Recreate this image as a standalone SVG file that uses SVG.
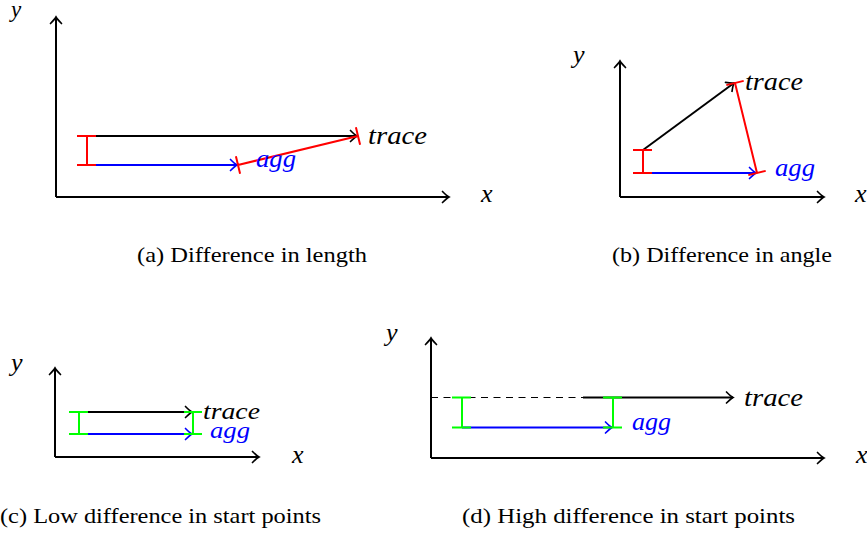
<svg xmlns="http://www.w3.org/2000/svg" width="867" height="534" viewBox="0 0 867 534">
<style>
.ax{stroke:#000;stroke-width:2;fill:none}
.k{stroke:#000;stroke-width:2;fill:none}
.b{stroke:#00f;stroke-width:2;fill:none}
.r{stroke:#f00;stroke-width:2;fill:none}
.g{stroke:#0f0;stroke-width:2;fill:none}
.dash{stroke:#000;stroke-width:1.2;stroke-dasharray:7 5.5;fill:none}
.m{font-family:"Liberation Serif","DejaVu Serif",serif;font-style:italic;font-size:26px;fill:#000}
.mb{font-family:"Liberation Serif","DejaVu Serif",serif;font-style:italic;font-size:26px;fill:#00f}
.sm{font-size:23px}
.cap{font-family:"Liberation Serif","DejaVu Serif",serif;font-size:21px;fill:#000}
</style>
<defs>
<marker id="ak" markerUnits="userSpaceOnUse" orient="auto" refX="0" refY="0" markerWidth="12" markerHeight="14" viewBox="-9 -7 11 14" overflow="visible">
<path d="M-6.5,-5.5 C-4,-3 -1.5,-0.8 0,0 C-1.5,0.8 -4,3 -6.5,5.5" fill="none" stroke="#000" stroke-width="1.7" stroke-linecap="round"/>
</marker>
<marker id="ab" markerUnits="userSpaceOnUse" orient="auto" refX="0" refY="0" markerWidth="12" markerHeight="14" viewBox="-9 -7 11 14" overflow="visible">
<path d="M-6.5,-5.5 C-4,-3 -1.5,-0.8 0,0 C-1.5,0.8 -4,3 -6.5,5.5" fill="none" stroke="#00f" stroke-width="1.7" stroke-linecap="round"/>
</marker>
</defs>

<g id="panel-a">
<g id="a-axes">
<path class="ax" d="M56,197 L56,17" marker-end="url(#ak)"/>
<path class="ax" d="M56,197 L449,197" marker-end="url(#ak)"/>
</g>
<g id="a-connectors">
<path class="k" d="M87,136 L357,136" marker-end="url(#ak)"/>
<path class="b" d="M87,165 L237,165" marker-end="url(#ab)"/>
<path class="r" d="M87,136 L87,165 M77,136 L96,136 M77,165 L96,165"/>
<path class="r" d="M238,165 L358,136 M235.9,156.3 L240.1,173.7 M355.9,127.3 L360.1,144.7"/>
</g>
<g id="a-labels">
<text class="m" x="368" y="144" textLength="59" lengthAdjust="spacingAndGlyphs">trace</text>
<text class="mb" x="256" y="167" textLength="40" lengthAdjust="spacingAndGlyphs">agg</text>
<text class="m" x="481" y="202">x</text>
<text class="m sm" x="11" y="17">y</text>
</g>
<text class="cap" x="137" y="262" textLength="230" lengthAdjust="spacingAndGlyphs">(a) Difference in length</text>
</g>

<g id="panel-b">
<g id="b-axes">
<path class="ax" d="M620,197 L620,61" marker-end="url(#ak)"/>
<path class="ax" d="M620,197 L824,197" marker-end="url(#ak)"/>
</g>
<g id="b-connectors">
<path class="k" d="M643,150 L734,83" marker-end="url(#ak)"/>
<path class="b" d="M643,173 L756,173" marker-end="url(#ab)"/>
<path class="r" d="M643,150 L643,173 M633,150 L652,150 M633,173 L652,173"/>
<path class="r" d="M735,83 L757,173 M726.3,85.1 L743.7,80.9 M748.3,175.1 L765.7,170.9"/>
</g>
<g id="b-labels">
<text class="m" x="745" y="90" textLength="58" lengthAdjust="spacingAndGlyphs">trace</text>
<text class="mb" x="775" y="176" textLength="40" lengthAdjust="spacingAndGlyphs">agg</text>
<text class="m" x="855" y="202">x</text>
<text class="m" x="573" y="63">y</text>
</g>
<text class="cap" x="612" y="262" textLength="220" lengthAdjust="spacingAndGlyphs">(b) Difference in angle</text>
</g>

<g id="panel-c">
<g id="c-axes">
<path class="ax" d="M55,457 L55,368" marker-end="url(#ak)"/>
<path class="ax" d="M55,457 L259,457" marker-end="url(#ak)"/>
</g>
<g id="c-connectors">
<path class="k" d="M79,412 L192,412" marker-end="url(#ak)"/>
<path class="b" d="M79,434 L192,434" marker-end="url(#ab)"/>
<path class="g" d="M79,412 L79,434 M69,412 L88,412 M69,434 L88,434"/>
<path class="g" d="M193,412 L193,434 M184,412 L202,412 M184,434 L202,434"/>
</g>
<g id="c-labels">
<text class="m sm" x="203" y="419" textLength="57" lengthAdjust="spacingAndGlyphs">trace</text>
<text class="mb sm" x="210" y="438" textLength="40" lengthAdjust="spacingAndGlyphs">agg</text>
<text class="m" x="292" y="463">x</text>
<text class="m" x="11" y="371">y</text>
</g>
<text class="cap" x="0" y="523" textLength="321" lengthAdjust="spacingAndGlyphs">(c) Low difference in start points</text>
</g>

<g id="panel-d">
<g id="d-axes">
<path class="ax" d="M431,458 L431,338" marker-end="url(#ak)"/>
<path class="ax" d="M431,458 L824,458" marker-end="url(#ak)"/>
</g>
<g id="d-connectors">
<path class="dash" d="M431,397.5 L583,397.5"/>
<path class="k" d="M583,397.5 L733,397.5" marker-end="url(#ak)"/>
<path class="b" d="M462,427.5 L612,427.5" marker-end="url(#ab)"/>
<path class="g" d="M462,397.5 L462,427.5 M452,397.5 L471,397.5 M452,427.5 L471,427.5"/>
<path class="g" d="M613,397.5 L613,427.5 M603,397.5 L622,397.5 M603,427.5 L622,427.5"/>
</g>
<g id="d-labels">
<text class="m" x="744" y="406" textLength="59" lengthAdjust="spacingAndGlyphs">trace</text>
<text class="mb" x="632" y="430" textLength="39" lengthAdjust="spacingAndGlyphs">agg</text>
<text class="m" x="856" y="463">x</text>
<text class="m" x="386" y="341">y</text>
</g>
<text class="cap" x="462" y="523" textLength="333" lengthAdjust="spacingAndGlyphs">(d) High difference in start points</text>
</g>
</svg>
